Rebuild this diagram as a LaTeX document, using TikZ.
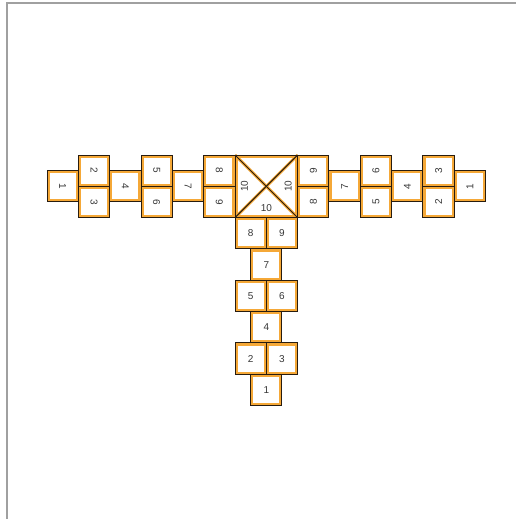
\documentclass[tikz,border=0pt]{standalone}
\usepackage{fontspec}
\setmainfont{Liberation Sans}
\definecolor{cellorange}{RGB}{245,168,55}
\definecolor{celldark}{RGB}{40,28,15}
\definecolor{celltext}{RGB}{55,55,55}
\definecolor{framegray}{RGB}{160,160,160}
\def\u{31.33}
\begin{document}
\begin{tikzpicture}[x=1pt,y=-1pt,
  cell/.style={rectangle, draw=cellorange, line width=2.8pt, fill=white,
    minimum width=\u pt-2.8pt, minimum height=\u pt-2.8pt, inner sep=0pt,
    outer sep=1.4pt, text=celltext, font=\fontsize{10}{12}\selectfont},
  bigcell/.style={cell, minimum width=2*\u pt-2.8pt, minimum height=2*\u pt-2.8pt},
  outline/.style={draw=celldark, line width=1pt},
  diag/.style={draw=cellorange, line width=3pt},
  lbl/.style={text=celltext, font=\fontsize{10}{12}\selectfont, inner sep=0pt},
  frameline/.style={draw=framegray, line width=2pt}]
\useasboundingbox (0,0) rectangle (516,519);
\draw[frameline] (6.5,519) -- (6.5,3) -- (516,3);
% center
\node[bigcell] (C) at ({235+\u},{155+\u}) {};
% left arm
\node[cell,rotate=-90] (L1) at ({235-5.5*\u},{155+\u}) {1};
\node[cell,rotate=-90] (L2) at ({235-4.5*\u},{155+0.5*\u}) {2};
\node[cell,rotate=-90] (L3) at ({235-4.5*\u},{155+1.5*\u}) {3};
\node[cell,rotate=-90] (L4) at ({235-3.5*\u},{155+\u}) {4};
\node[cell,rotate=-90] (L5) at ({235-2.5*\u},{155+0.5*\u}) {5};
\node[cell,rotate=-90] (L6) at ({235-2.5*\u},{155+1.5*\u}) {6};
\node[cell,rotate=-90] (L7) at ({235-1.5*\u},{155+\u}) {7};
\node[cell,rotate=-90] (L8) at ({235-0.5*\u},{155+0.5*\u}) {8};
\node[cell,rotate=-90] (L9) at ({235-0.5*\u},{155+1.5*\u}) {9};
% right arm
\node[cell,rotate=90] (R9) at ({235+2.5*\u},{155+0.5*\u}) {9};
\node[cell,rotate=90] (R8) at ({235+2.5*\u},{155+1.5*\u}) {8};
\node[cell,rotate=90] (R7) at ({235+3.5*\u},{155+\u}) {7};
\node[cell,rotate=90] (R6) at ({235+4.5*\u},{155+0.5*\u}) {6};
\node[cell,rotate=90] (R5) at ({235+4.5*\u},{155+1.5*\u}) {5};
\node[cell,rotate=90] (R4) at ({235+5.5*\u},{155+\u}) {4};
\node[cell,rotate=90] (R3) at ({235+6.5*\u},{155+0.5*\u}) {3};
\node[cell,rotate=90] (R2) at ({235+6.5*\u},{155+1.5*\u}) {2};
\node[cell,rotate=90] (R1) at ({235+7.5*\u},{155+\u}) {1};
% down arm
\node[cell] (D8) at ({235+0.5*\u},{155+2.5*\u}) {8};
\node[cell] (D9) at ({235+1.5*\u},{155+2.5*\u}) {9};
\node[cell] (D7) at ({235+\u},{155+3.5*\u}) {7};
\node[cell] (D5) at ({235+0.5*\u},{155+4.5*\u}) {5};
\node[cell] (D6) at ({235+1.5*\u},{155+4.5*\u}) {6};
\node[cell] (D4) at ({235+\u},{155+5.5*\u}) {4};
\node[cell] (D2) at ({235+0.5*\u},{155+6.5*\u}) {2};
\node[cell] (D3) at ({235+1.5*\u},{155+6.5*\u}) {3};
\node[cell] (D1) at ({235+\u},{155+7.5*\u}) {1};
% center diagonals
\draw[diag] (C.north west) -- (C.south east);
\draw[diag] (C.north east) -- (C.south west);
\draw[outline] (C.north west) -- (C.south east);
\draw[outline] (C.north east) -- (C.south west);
% outlines
\foreach \n in {C,L1,L2,L3,L4,L5,L6,L7,L8,L9,R1,R2,R3,R4,R5,R6,R7,R8,R9,D1,D2,D3,D4,D5,D6,D7,D8,D9}
  \draw[outline] (\n.north west) rectangle (\n.south east);
% center labels
\node[lbl,rotate=90] (CL) at ({235+0.3*\u},{155+\u}) {10};
\node[lbl,rotate=90] (CR) at ({235+1.7*\u},{155+\u}) {10};
\node[lbl] (CB) at ({235+\u},{155+1.68*\u}) {10};
\end{tikzpicture}
\end{document}
